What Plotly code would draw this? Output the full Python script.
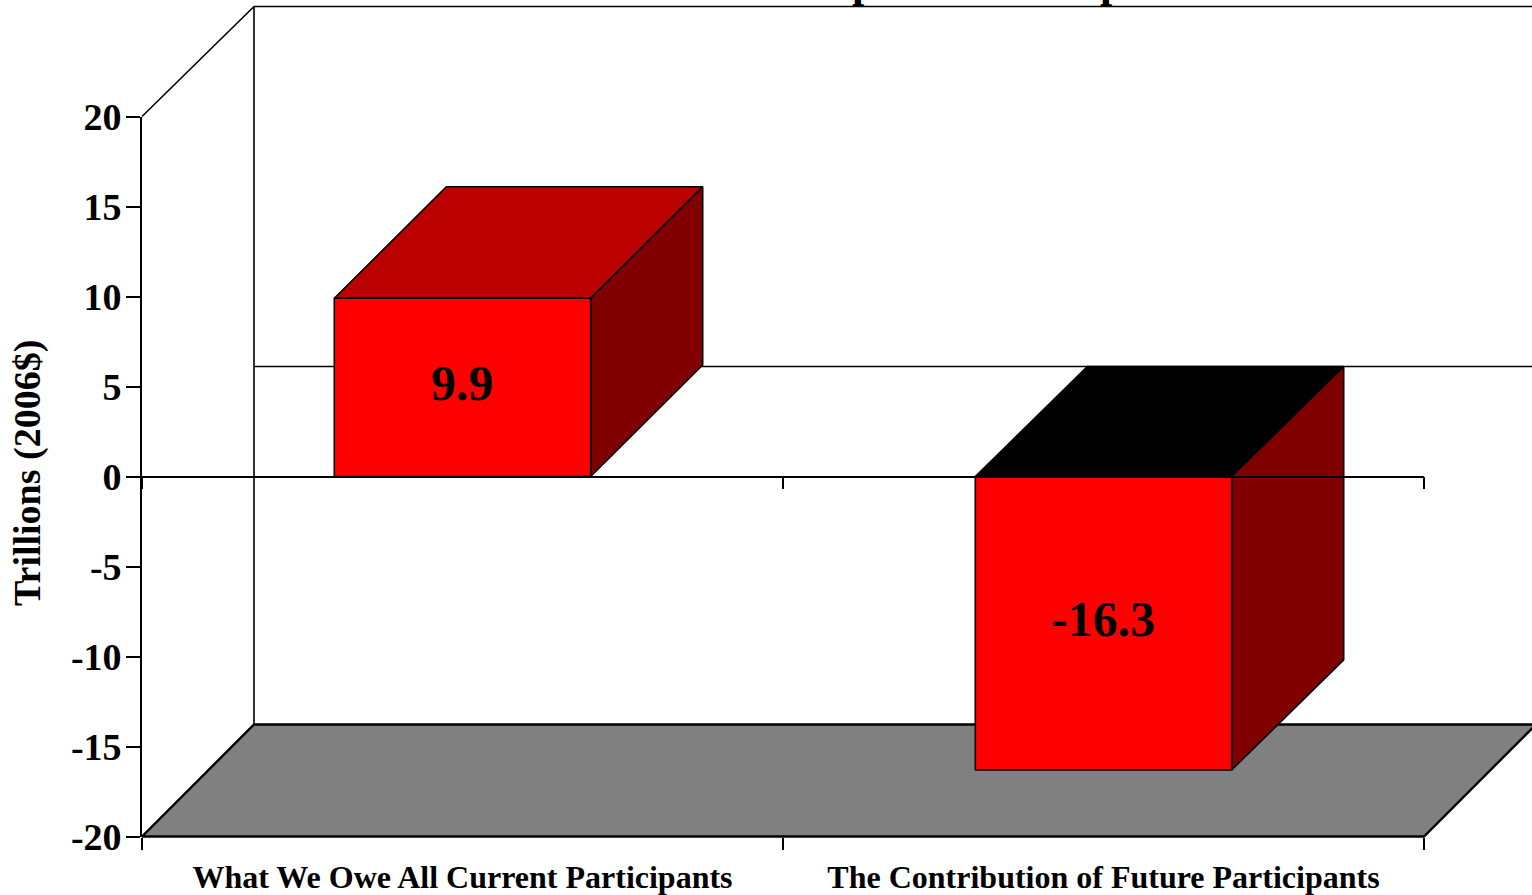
import plotly.graph_objects as go

W, H = 1532, 895
categories = ["What We Owe All Current Participants", "The Contribution of Future Participants"]
values = [9.9, -16.3]
value_labels = ["9.9", "-16.3"]
y_ticks = [20, 15, 10, 5, 0, -5, -10, -15, -20]
x_boundaries = [0, 1, 2]
y_title = "Trillions (2006$)"
title_fragments = ["p", "p"]

# Chart frame
X0, X1, Y_TOP, Y_BOT = 142, 1424, 116.5, 836.5
ZERO_PX = 476.5
FONT = "Liberation Serif"
BAR_W = 0.4
PX_PER_X = (X1 - X0) / 2
PX_PER_Y = (Y_BOT - Y_TOP) / 40
DX = 112 / PX_PER_X
DY = 110 / PX_PER_Y
DY_FLOOR = 112 / PX_PER_Y
DY_BAR = 111.5 / PX_PER_Y
YMIN, YMAX = -20, 20
XMIN, XMAX = 0, 2

RED, TOP_RED, SIDE = "#ff0000", "#bb0000", "#800000"
INK = "#000000"


def poly(xs, ys, fill, lw=1.6):
    return go.Scatter(x=xs, y=ys, mode="lines", fill="toself", fillcolor=fill,
                      line=dict(color=INK, width=lw), hoverinfo="skip", showlegend=False)


def line(xs, ys, lw=1.4):
    return go.Scatter(x=xs, y=ys, mode="lines",
                      line=dict(color=INK, width=lw), hoverinfo="skip", showlegend=False)


fig = go.Figure()

# Back wall, floor and the zero plane's rear edge
fig.add_trace(line([XMIN, XMIN + DX, XMIN + DX], [YMAX, YMAX + DY, YMIN + DY_FLOOR], 1.6))
fig.add_trace(line([XMIN + DX, XMAX + DX], [YMAX + DY, YMAX + DY], 1.6))
fig.add_trace(line([XMIN + DX, XMAX + DX], [DY, DY], 1.4))
fig.add_trace(poly([XMIN, XMAX, XMAX + DX, XMIN + DX, XMIN],
                   [YMIN, YMIN, YMIN + DY_FLOOR, YMIN + DY_FLOOR, YMIN], "#808080", 2.4))

# 3-D bars
for i, v in enumerate(values):
    l, r = i + 0.5 - BAR_W / 2, i + 0.5 + BAR_W / 2
    hi, lo = max(v, 0), min(v, 0)
    top_colour = TOP_RED if v > 0 else INK
    d = DY_BAR if v > 0 else DY
    fig.add_trace(poly([l, r, r + DX, l + DX, l], [hi, hi, hi + d, hi + d, hi], top_colour))
    fig.add_trace(poly([r, r + DX, r + DX, r, r], [lo, lo + d, hi + d, hi, lo], SIDE))
    fig.add_trace(poly([l, r, r, l, l], [lo, lo, hi, hi, lo], RED))

fig.add_trace(go.Scatter(x=[i + 0.5 for i in range(len(values))], y=[v / 2 for v in values],
                         mode="text", text=value_labels, textposition="middle center",
                         textfont=dict(family=FONT, size=50, color=INK, weight="bold"),
                         hoverinfo="skip", showlegend=False))

# Anchor traces so the visible axes are drawn above the box
fig.add_trace(go.Scatter(x=[0], y=[0], xaxis="x2", yaxis="y2", mode="markers",
                         marker=dict(opacity=0), hoverinfo="skip", showlegend=False))
fig.add_trace(go.Scatter(x=[0], y=[0], xaxis="x3", yaxis="y2", mode="markers",
                         marker=dict(opacity=0), hoverinfo="skip", showlegend=False))

fig.update_layout(
    width=W, height=H, margin=dict(l=0, r=0, t=0, b=0, autoexpand=False),
    paper_bgcolor="white", plot_bgcolor="rgba(0,0,0,0)", showlegend=False,
    # Full-canvas hidden axes on the same scale, so the depth of the 3-D box can leave the frame
    xaxis=dict(domain=[0, 1], range=[-X0 / PX_PER_X, XMAX + (W - X1) / PX_PER_X],
               visible=False, fixedrange=True),
    yaxis=dict(domain=[0, 1], range=[(ZERO_PX - H) / PX_PER_Y, ZERO_PX / PX_PER_Y],
               visible=False, fixedrange=True),
    xaxis2=dict(domain=[X0 / W, X1 / W], range=[XMIN, XMAX], anchor="y2", tickmode="array",
                tickvals=[0.5, 1.5], ticktext=categories, ticks="", showgrid=False, zeroline=False,
                showline=False, tickfont=dict(family=FONT, size=32, color=INK, weight="bold"),
                ticklabelstandoff=18, automargin=False,
                minor=dict(tickmode="array", tickvals=x_boundaries, ticks="outside", ticklen=12,
                           tickwidth=1.6, tickcolor=INK, showgrid=False)),
    xaxis3=dict(domain=[X0 / W, X1 / W], range=[XMIN, XMAX], overlaying="x2", anchor="free",
                position=1 - ZERO_PX / H, tickmode="array", tickvals=x_boundaries,
                ticktext=["", "", ""], ticks="outside", ticklen=12, tickwidth=1.6, tickcolor=INK,
                showline=True, linecolor=INK, linewidth=1.6, showgrid=False, zeroline=False),
    yaxis2=dict(domain=[1 - Y_BOT / H, 1 - Y_TOP / H], range=[YMIN, YMAX], anchor="x2",
                tickmode="array", tickvals=y_ticks, ticktext=[str(t) for t in y_ticks],
                ticks="outside", ticklen=14, tickwidth=1.6, tickcolor=INK, showline=True,
                linecolor=INK, linewidth=1.6, showgrid=False, zeroline=False, automargin=False,
                tickfont=dict(family=FONT, size=38, color=INK, weight="bold"),
                ticklabelstandoff=-3),
    annotations=[
        dict(text=y_title, xref="paper", yref="paper", x=27 / W, y=1 - 473 / H, textangle=-90,
             xanchor="center", yanchor="middle", showarrow=False,
             font=dict(family=FONT, size=38, color=INK, weight="bold")),
        dict(text=title_fragments[0], xref="paper", yref="paper", x=864 / W, y=1 - 9 / H,
             xanchor="center", yanchor="bottom", showarrow=False,
             font=dict(family=FONT, size=44, color=INK, weight="bold")),
        dict(text=title_fragments[1], xref="paper", yref="paper", x=1112 / W, y=1 - 9 / H,
             xanchor="center", yanchor="bottom", showarrow=False,
             font=dict(family=FONT, size=44, color=INK, weight="bold")),
    ],
)

fig.write_html("out.html", config=dict(displayModeBar=False),
               post_script="document.body.style.margin='0';document.body.style.overflow='hidden';")
